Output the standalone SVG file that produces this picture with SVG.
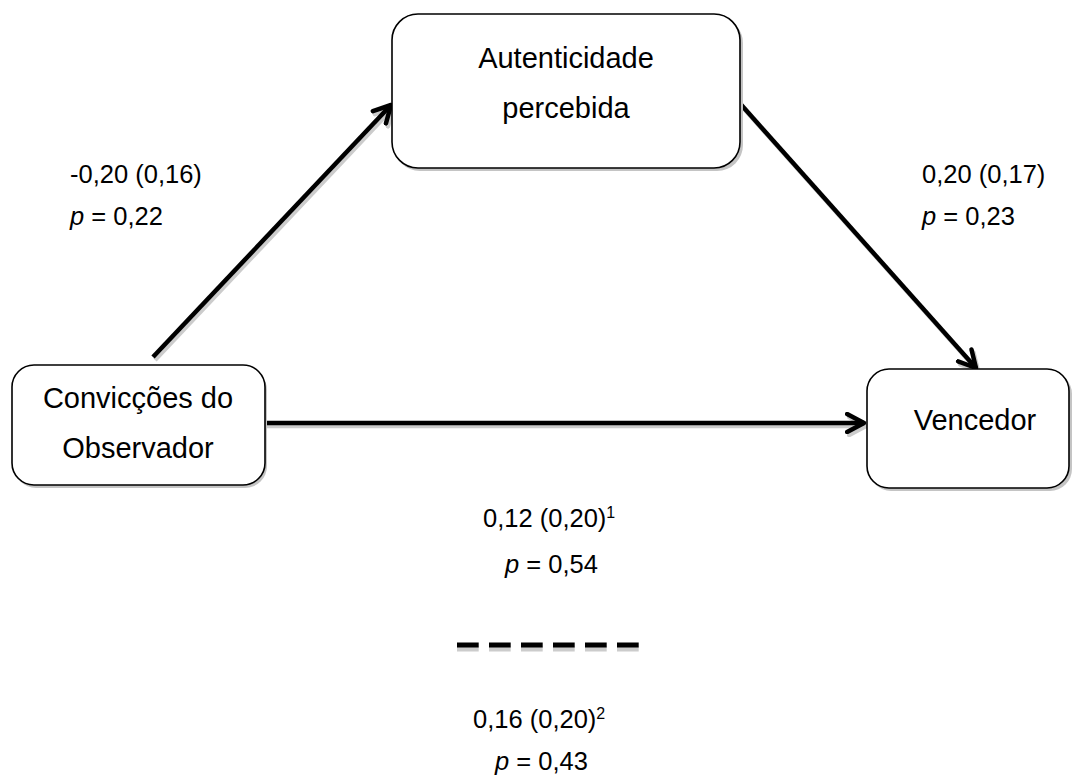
<svg xmlns="http://www.w3.org/2000/svg" width="1072" height="776" viewBox="0 0 1072 776">
<defs>
<style>
text{font-family:"Liberation Sans",Arial,sans-serif;font-size:25.5px;fill:#000}
.bt{font-size:29px;text-anchor:middle}
.box{fill:#fff;stroke:#000;stroke-width:1.6}
.sh{fill:#c4c4c4}
.conn{stroke:#000;stroke-width:4.5;fill:none}
.csh{stroke:#cccccc;stroke-width:4.5;fill:none}
.sup{font-size:16px}
</style>
<marker id="ah" viewBox="0 0 10 10" refX="8.5" refY="5" markerWidth="5" markerHeight="5" markerUnits="strokeWidth" orient="auto">
<path d="M1,1 L8.5,5 L1,9" fill="none" stroke="#000" stroke-width="2" stroke-linecap="round" stroke-linejoin="round"/>
</marker>
<marker id="ahs" viewBox="0 0 10 10" refX="8.5" refY="5" markerWidth="5" markerHeight="5" markerUnits="strokeWidth" orient="auto">
<path d="M1,1 L8.5,5 L1,9" fill="none" stroke="#cccccc" stroke-width="2" stroke-linecap="round" stroke-linejoin="round"/>
</marker>
</defs>
<rect width="1072" height="776" fill="#fff"/>
<g id="connectors">
<line class="csh" x1="155" y1="360" x2="393" y2="108" marker-end="url(#ahs)"/>
<line class="csh" x1="739" y1="103" x2="978" y2="371" marker-end="url(#ahs)"/>
<line class="csh" x1="265" y1="426" x2="866" y2="426" marker-end="url(#ahs)"/>
<line class="conn" x1="153" y1="357" x2="391" y2="105" marker-end="url(#ah)"/>
<line class="conn" x1="737" y1="100" x2="976" y2="368" marker-end="url(#ah)"/>
<line class="conn" x1="265" y1="423" x2="864" y2="423" marker-end="url(#ah)"/>
<line x1="457" y1="649" x2="640" y2="649" stroke="#cccccc" stroke-width="5" stroke-dasharray="21.7,10.3"/>
<line x1="457" y1="645" x2="640" y2="645" stroke="#000" stroke-width="5" stroke-dasharray="21.7,10.3"/>
</g>
<g id="node-autenticidade">
<rect class="sh" x="394" y="17" width="349" height="154" rx="26"/>
<rect class="box" x="392" y="14" width="348" height="154" rx="26"/>
<text class="bt" x="566" y="68">Autenticidade</text>
<text class="bt" x="566" y="118">percebida</text>
</g>
<g id="node-conviccoes">
<rect class="sh" x="14" y="368" width="253" height="120" rx="22"/>
<rect class="box" x="12" y="365" width="253" height="120" rx="22"/>
<text class="bt" x="138" y="408">Convicções do</text>
<text class="bt" x="138" y="458">Observador</text>
</g>
<g id="node-vencedor">
<rect class="sh" x="869" y="372" width="203" height="119" rx="22"/>
<rect class="box" x="867" y="369" width="202" height="119" rx="22"/>
<text class="bt" x="975" y="430">Vencedor</text>
</g>
<g id="labels">
<text x="70" y="183">-0,20 (0,16)</text>
<text x="70" y="225"><tspan font-style="italic">p</tspan> = 0,22</text>
<text x="922" y="183">0,20 (0,17)</text>
<text x="922" y="225"><tspan font-style="italic">p</tspan> = 0,23</text>
<text x="483" y="527">0,12 (0,20)<tspan class="sup" dy="-9">1</tspan></text>
<text x="505" y="573"><tspan font-style="italic">p</tspan> = 0,54</text>
<text x="473" y="728">0,16 (0,20)<tspan class="sup" dy="-9">2</tspan></text>
<text x="495" y="770"><tspan font-style="italic">p</tspan> = 0,43</text>
</g>
</svg>
